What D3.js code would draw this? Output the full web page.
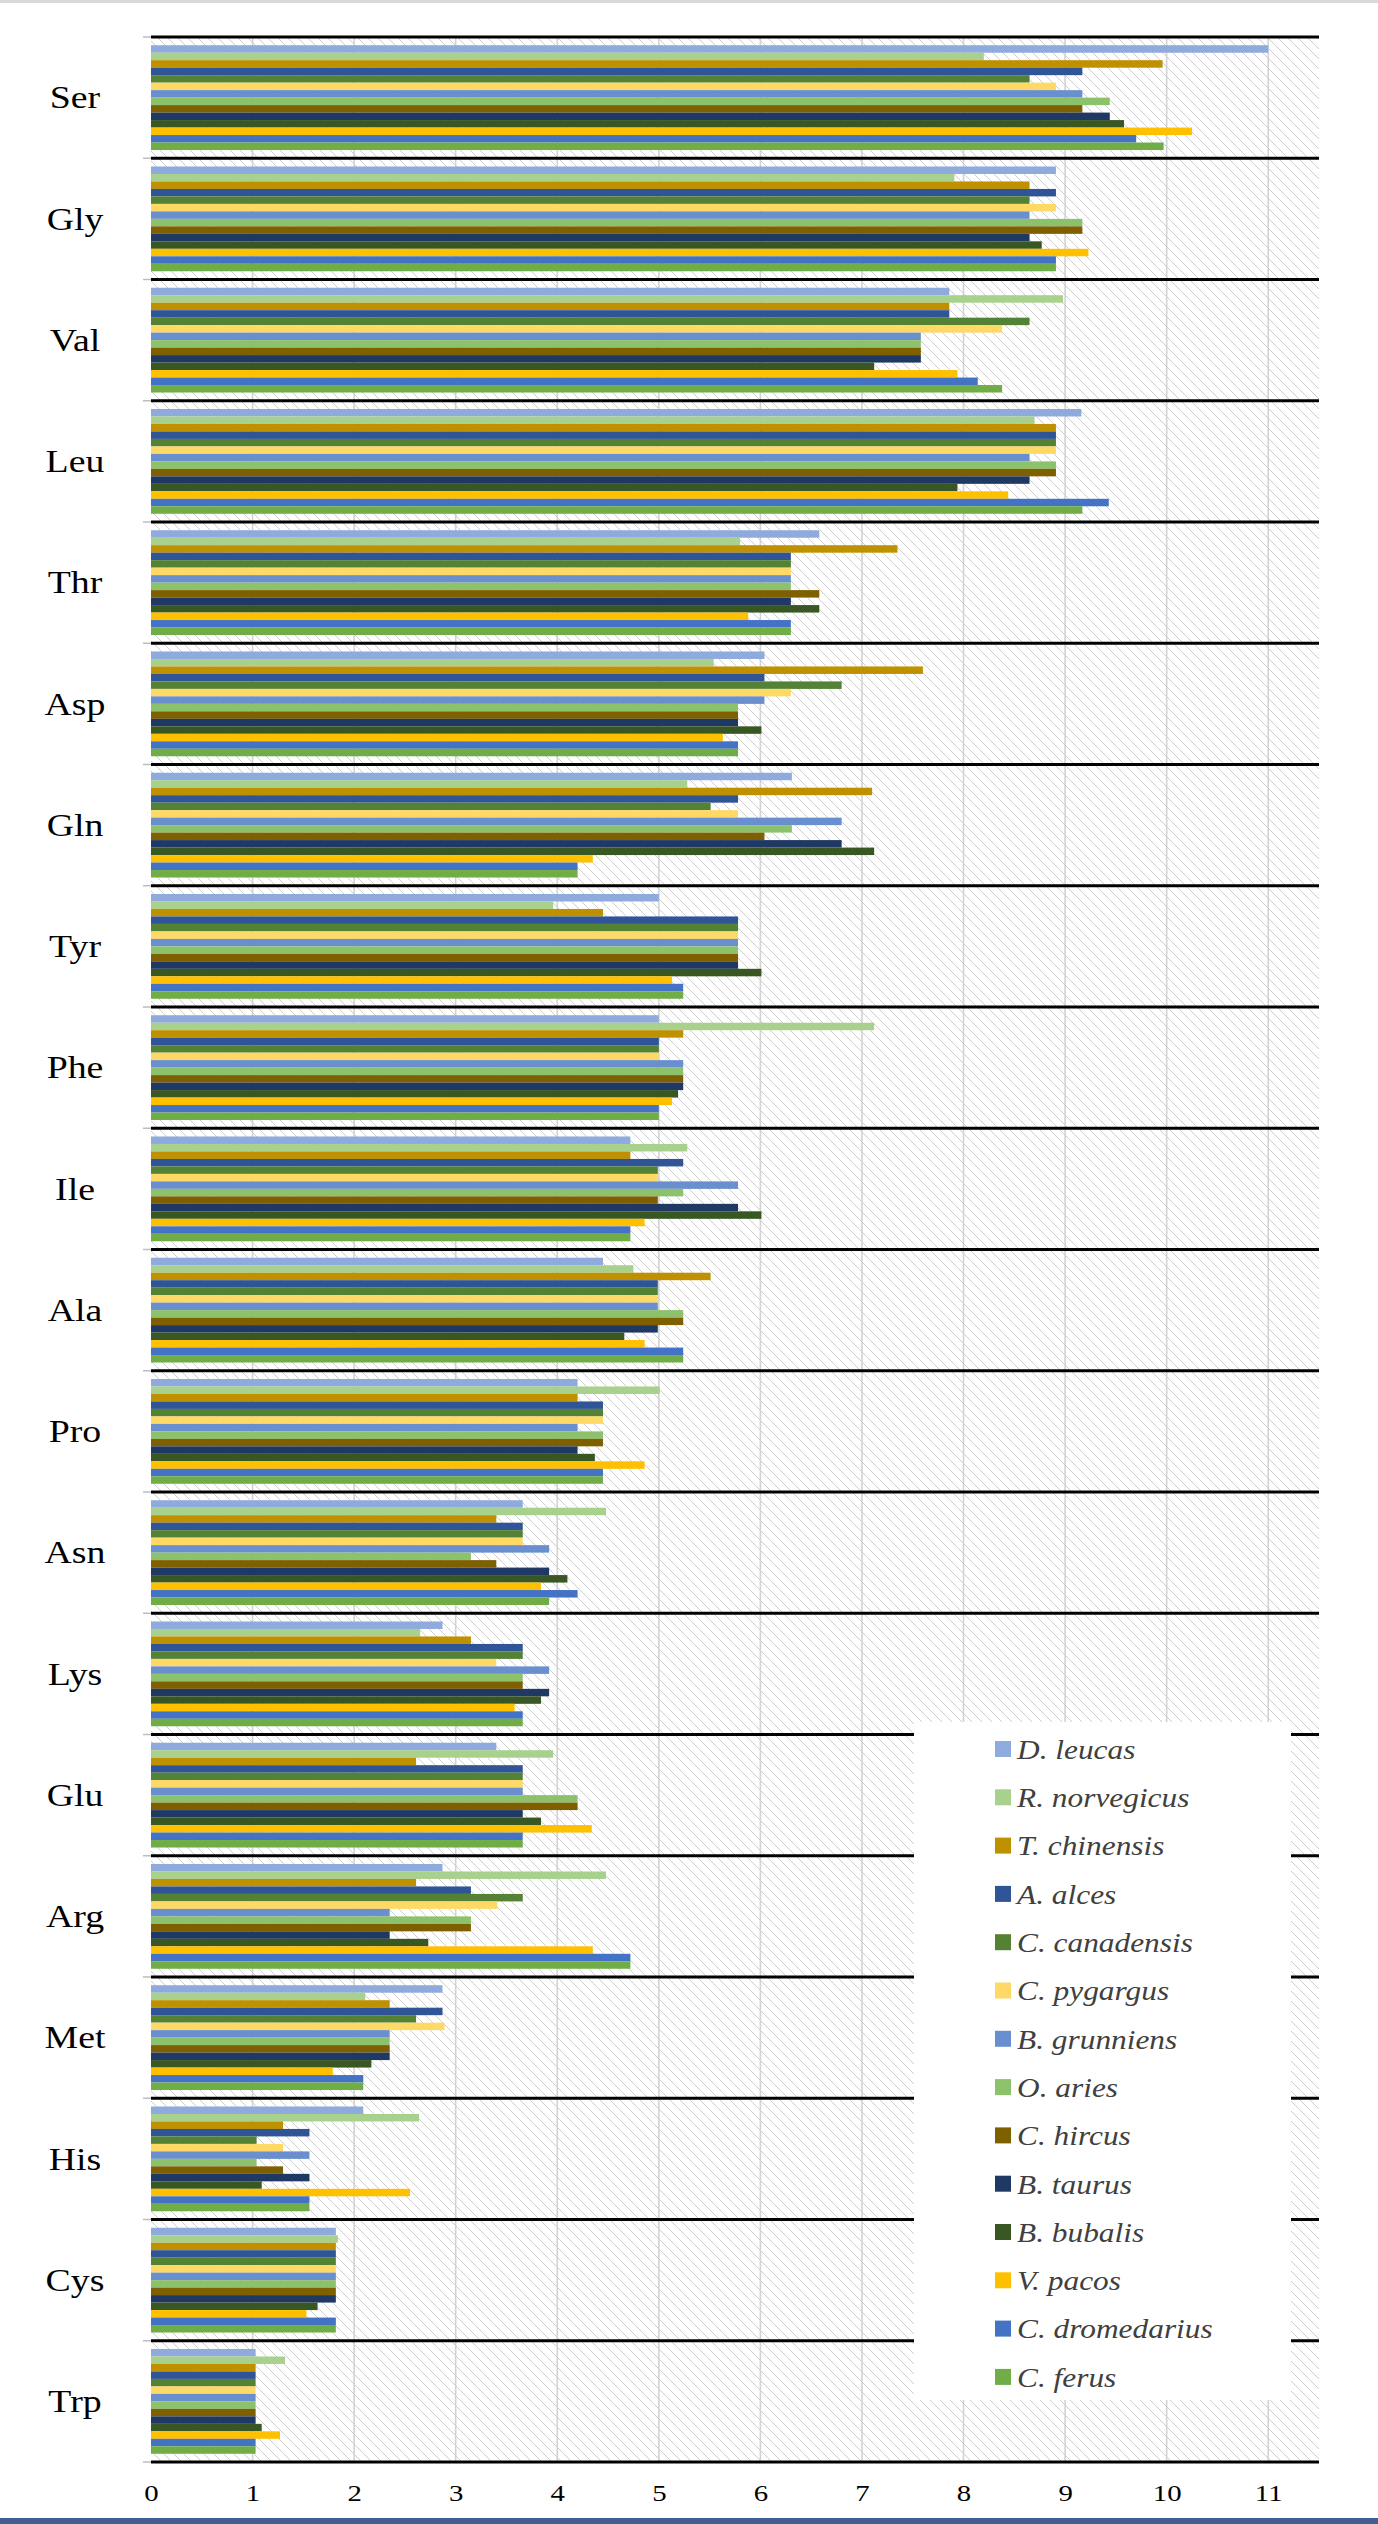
<!DOCTYPE html>
<html><head><meta charset="utf-8">
<script src="https://cdn.jsdelivr.net/npm/d3@7"></script>
<style>html,body{margin:0;padding:0;background:#fff;} svg{display:block;}</style>
</head><body>
<svg id="chart" width="1378" height="2524"></svg>
<script>
// ---------- data ----------
const categories = ["Ser","Gly","Val","Leu","Thr","Asp","Gln","Tyr","Phe","Ile","Ala","Pro","Asn","Lys","Glu","Arg","Met","His","Cys","Trp"];
const species = ["D. leucas","R. norvegicus","T. chinensis","A. alces","C. canadensis","C. pygargus","B. grunniens","O. aries","C. hircus","B. taurus","B. bubalis","V. pacos","C. dromedarius","C. ferus"];
const xTicks = [0,1,2,3,4,5,6,7,8,9,10,11];

const dLeucas       = [11.00,8.91,7.86,9.16,6.58,6.04,6.31,5.00,5.00,4.72,4.45,4.20,3.66,2.87,3.40,2.87,2.87,2.09,1.82,1.03];
const rNorvegicus   = [8.20,7.91,8.98,8.70,5.80,5.54,5.28,3.96,7.12,5.28,4.75,5.01,4.48,2.65,3.96,4.48,2.11,2.64,1.84,1.32];
const tChinensis    = [9.96,8.65,7.86,8.91,7.35,7.60,7.10,4.45,5.24,4.72,5.51,4.20,3.40,3.15,2.61,2.61,2.35,1.30,1.82,1.03];
const aAlces        = [9.17,8.91,7.86,8.91,6.30,6.04,5.78,5.78,5.00,5.24,4.99,4.45,3.66,3.66,3.66,3.15,2.87,1.56,1.82,1.03];
const cCanadensis   = [8.65,8.65,8.65,8.91,6.30,6.80,5.51,5.78,5.00,4.99,4.99,4.45,3.66,3.66,3.66,3.66,2.61,1.04,1.82,1.03];
const cPygargus     = [8.91,8.91,8.38,8.91,6.30,6.30,5.78,5.78,5.00,4.99,4.99,4.45,3.66,3.40,3.66,3.41,2.89,1.30,1.82,1.03];
const bGrunniens    = [9.17,8.65,7.58,8.65,6.30,6.04,6.80,5.78,5.24,5.78,4.99,4.20,3.92,3.92,3.66,2.35,2.35,1.56,1.82,1.03];
const oAries        = [9.44,9.17,7.58,8.91,6.30,5.78,6.31,5.78,5.24,5.24,5.24,4.45,3.15,3.66,4.20,3.15,2.35,1.04,1.82,1.03];
const cHircus       = [9.17,9.17,7.58,8.91,6.58,5.78,6.04,5.78,5.24,4.99,5.24,4.45,3.40,3.66,4.20,3.15,2.35,1.30,1.82,1.03];
const bTaurus       = [9.44,8.65,7.58,8.65,6.30,5.78,6.80,5.78,5.24,5.78,4.99,4.20,3.92,3.92,3.66,2.35,2.35,1.56,1.82,1.03];
const bBubalis      = [9.58,8.77,7.12,7.94,6.58,6.01,7.12,6.01,5.19,6.01,4.66,4.37,4.10,3.84,3.84,2.73,2.17,1.09,1.64,1.09];
const vPacos        = [10.25,9.23,7.94,8.44,5.88,5.63,4.35,5.13,5.13,4.86,4.86,4.86,3.84,3.58,4.34,4.35,1.79,2.55,1.53,1.27];
const cDromedarius  = [9.70,8.91,8.14,9.43,6.30,5.78,4.20,5.24,5.00,4.72,5.24,4.45,4.20,3.66,3.66,4.72,2.09,1.56,1.82,1.03];
const cFerus        = [9.97,8.91,8.38,9.17,6.30,5.78,4.20,5.24,5.00,4.72,5.24,4.45,3.92,3.66,3.66,4.72,2.09,1.56,1.82,1.03];

const seriesValues = [dLeucas,rNorvegicus,tChinensis,aAlces,cCanadensis,cPygargus,bGrunniens,oAries,cHircus,bTaurus,bBubalis,vPacos,cDromedarius,cFerus];

// ---------- styles ----------
const palette = ["#8FAADC","#A9D18E","#BF9000","#2F5597","#548235","#FFD966","#6A8FCF","#8DC26C","#7F6000","#203864","#385723","#FFC000","#4472C4","#70AD47"];

const svg = d3.select("#chart");
const plot = {left:151, right:1319, top:37, bottom:2462};

const x = d3.scaleLinear().domain([0, 11.5]).range([plot.left, plot.right]);
const y0 = d3.scaleBand().domain(categories).range([plot.top, plot.bottom]).paddingInner(0).paddingOuter(0);
const y1 = d3.scaleBand().domain(species).range([0, y0.bandwidth()]).paddingInner(0).paddingOuter(1.1);
const color = d3.scaleOrdinal().domain(species).range(palette);

// page decorations
svg.append("rect").attr("x",0).attr("y",0).attr("width",1378).attr("height",3).attr("fill","#d9d9d9");
svg.append("rect").attr("x",0).attr("y",2518).attr("width",1378).attr("height",6).attr("fill","#41608f");

// hatch pattern
const defs = svg.append("defs");
const pat = defs.append("pattern").attr("id","hatch").attr("patternUnits","userSpaceOnUse")
  .attr("width",10).attr("height",10);
pat.append("rect").attr("width",10).attr("height",10).attr("fill","#fff");
pat.append("path").attr("d","M0,0L10,10M-2,8L2,12M8,-2L12,2").attr("stroke","#cdcdcd").attr("stroke-width",1);

svg.append("rect").attr("x",plot.left).attr("y",plot.top)
  .attr("width",plot.right-plot.left).attr("height",plot.bottom-plot.top).attr("fill","url(#hatch)");

// vertical gridlines
svg.append("g").selectAll("line").data(xTicks.filter(t=>t>0)).join("line")
  .attr("x1",d=>x(d)).attr("x2",d=>x(d)).attr("y1",plot.top).attr("y2",plot.bottom)
  .attr("stroke","#d2d2d2").attr("stroke-width",1.6);

// bars
const groups = svg.append("g").selectAll("g").data(categories).join("g")
  .attr("transform",c=>`translate(0,${y0(c)})`);
groups.selectAll("rect").data((c,i)=>species.map((s,j)=>({s, v:seriesValues[j][i]}))).join("rect")
  .attr("x",x(0)).attr("y",d=>y1(d.s))
  .attr("width",d=>x(d.v)-x(0)).attr("height",y1.bandwidth())
  .attr("fill",d=>color(d.s));

// category separators (black)
const bounds = categories.map(c=>y0(c)).concat([plot.bottom]);
svg.append("g").selectAll("line").data(bounds).join("line")
  .attr("x1",plot.left).attr("x2",plot.right).attr("y1",d=>d).attr("y2",d=>d)
  .attr("stroke","#000").attr("stroke-width",3);
svg.append("g").selectAll("line").data(bounds).join("line")
  .attr("x1",plot.left-8).attr("x2",plot.left).attr("y1",d=>d).attr("y2",d=>d)
  .attr("stroke","#bdbdbd").attr("stroke-width",1.5);

// category labels
svg.append("g").selectAll("text").data(categories).join("text")
  .attr("transform",c=>`translate(75,${y0(c)+y0.bandwidth()/2}) scale(1.22,1)`)
  .attr("text-anchor","middle").attr("dy","0.35em")
  .attr("font-family","'Liberation Serif','Times New Roman',serif").attr("font-size",31)
  .attr("fill","#000").text(c=>c);

// x axis
const xAxis = d3.axisBottom(x).tickValues(xTicks).tickSize(0).tickPadding(22).tickFormat(d3.format("d"));
const ax = svg.append("g").attr("transform",`translate(0,${plot.bottom})`).call(xAxis);
ax.select(".domain").remove();
ax.selectAll("text").attr("font-family","'Liberation Serif','Times New Roman',serif")
  .attr("font-size",24).attr("fill","#000").attr("transform","scale(1.2,1)");

// legend
const leg = svg.append("g");
leg.append("rect").attr("x",914).attr("y",1722).attr("width",377).attr("height",678).attr("fill","#fff");
const items = leg.selectAll("g").data(species).join("g")
  .attr("transform",(d,i)=>`translate(995,${1749 + i*48.3})`);
items.append("rect").attr("x",0).attr("y",-8).attr("width",16).attr("height",16).attr("fill",d=>color(d));
items.append("text").attr("transform","translate(22,0) scale(1.12,1)").attr("dy","0.35em")
  .attr("font-family","'Liberation Serif','Times New Roman',serif").attr("font-style","italic")
  .attr("font-size",28).attr("fill","#404040").text(d=>d);
</script>
</body></html>
